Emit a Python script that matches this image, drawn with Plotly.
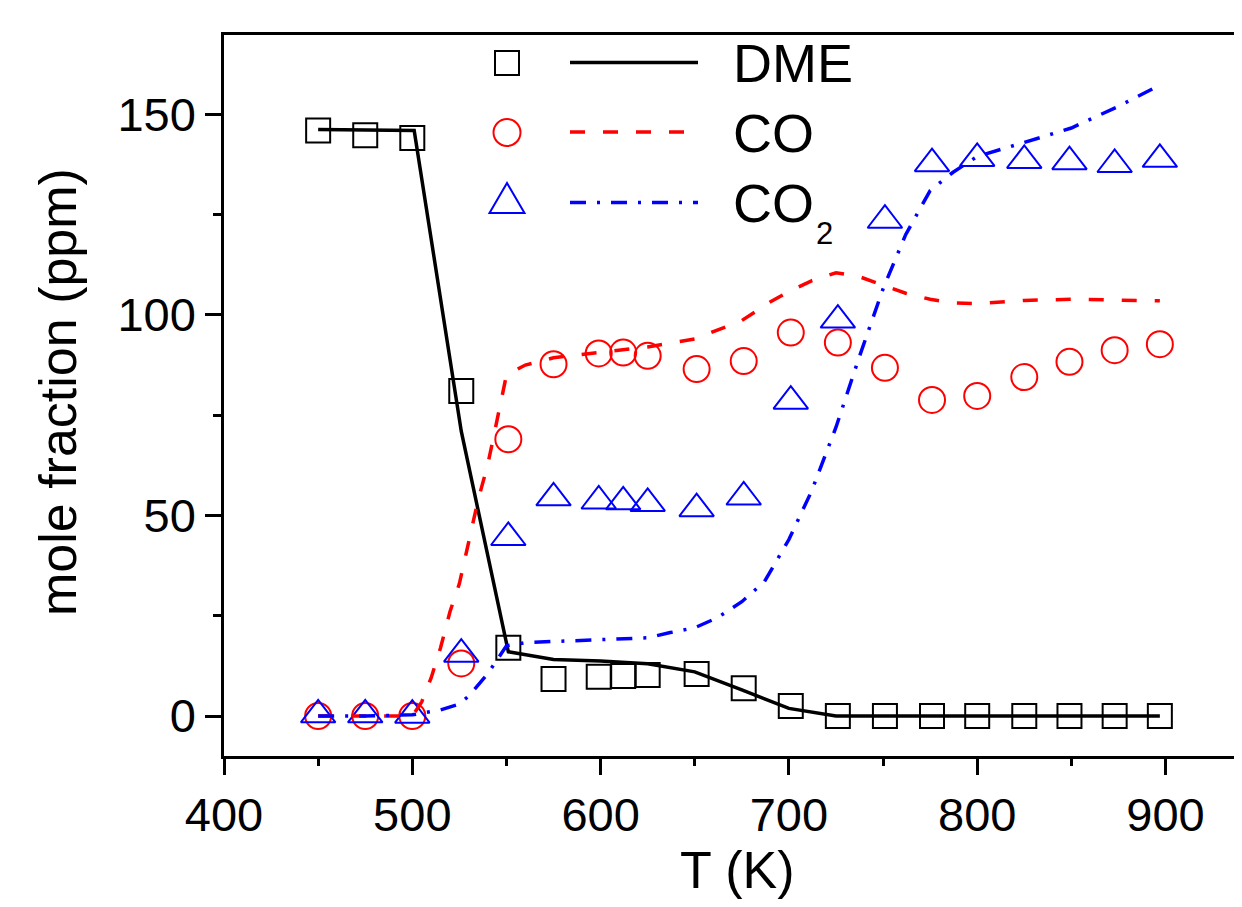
import plotly.graph_objects as go

# ---------------- data ----------------
T_exp = [450, 475, 500, 526, 551, 575, 599, 612, 625, 651, 676, 701, 726, 751, 776, 800, 825, 849, 873, 897]
DME_exp = [146.0, 144.8, 144.1, 81.0, 17.0, 9.2, 9.8, 10.0, 10.2, 10.5, 6.9, 2.5, 0, 0, 0, 0, 0, 0, 0, 0]
CO_exp = [0, 0, 0, 13.1, 69.0, 87.7, 90.4, 90.6, 89.8, 86.5, 88.5, 95.6, 93.1, 86.8, 78.8, 79.8, 84.5, 88.3, 91.2, 92.7]
CO2_exp = [0.3, 0.3, 0.2, 15.4, 44.5, 54.4, 53.6, 53.4, 53.0, 51.7, 54.6, 78.5, 98.7, 123.6, 137.7, 139.0, 138.5, 138.2, 137.5, 138.8]

T_dme_model = [450, 475, 501, 526, 551, 575, 600, 625, 650, 675, 700, 725, 750, 775, 800, 825, 850, 875, 897]
DME_model = [146.2, 146.1, 146.0, 71.0, 16.0, 14.1, 13.7, 13.0, 11.0, 6.5, 1.9, 0.0, 0, 0, 0, 0, 0, 0, 0]

T_co_model = [450, 475, 500, 505, 510, 515, 520, 525, 530, 535, 540, 545, 550, 560, 575, 600, 625, 650, 675,
              690, 700, 712, 725, 737, 750, 762, 775, 787, 800, 825, 850, 875, 897]
CO_model = [0, 0, 0, 3.5, 9.5, 17.0, 26.0, 33.0, 44.0, 54.0, 62.5, 74.0, 85.0, 87.5, 89.3, 90.7, 92.0, 94.0, 98.6,
            103.2, 105.8, 108.5, 110.5, 109.6, 107.4, 105.4, 103.9, 103.0, 102.8, 103.6, 103.9, 103.7, 103.5]

T_co2_model = [450, 475, 500, 515, 525, 530, 540, 550, 560, 575, 600, 625, 637, 650, 662, 675, 687, 700, 712,
               725, 737, 750, 762, 775, 787, 800, 825, 850, 875, 897]
CO2_model = [0, 0, 0.3, 1.5, 3.0, 5.0, 10.5, 17.5, 18.3, 18.6, 18.9, 19.5, 20.8, 22.0, 24.5, 28.5, 33.5, 44.0, 56.0,
             72.0, 89.0, 106.5, 120.0, 131.0, 135.5, 139.5, 143.0, 146.6, 152.0, 157.3]

x_ticks = [400, 500, 600, 700, 800, 900]
y_ticks = [0, 50, 100, 150]
legend_names = ["DME", "CO", "CO"]
co2_subscript = "2"

FONT = "Liberation Sans, Arial, sans-serif"
BLACK, RED, BLUE = "#000000", "#ff0000", "#0000ff"
DASH_CO = "15px,18px"
DASH_CO2 = "16px,11px,3px,11px"

fig = go.Figure()

# experimental markers
fig.add_trace(go.Scatter(x=T_exp, y=CO_exp, mode="markers", showlegend=False,
                         marker=dict(symbol="circle-open", size=26, color=RED, line=dict(width=2, color=RED))))
fig.add_trace(go.Scatter(x=T_exp, y=CO2_exp, mode="markers", showlegend=False,
                         marker=dict(symbol="triangle-up-open", size=30, color=BLUE, line=dict(width=2, color=BLUE))))
fig.add_trace(go.Scatter(x=T_exp, y=DME_exp, mode="markers", showlegend=False,
                         marker=dict(symbol="square-open", size=24, color=BLACK, line=dict(width=2, color=BLACK))))
# model lines
fig.add_trace(go.Scatter(x=T_dme_model, y=DME_model, mode="lines", showlegend=False,
                         line=dict(color=BLACK, width=3.5)))
fig.add_trace(go.Scatter(x=T_co_model, y=CO_model, mode="lines", showlegend=False,
                         line=dict(color=RED, width=3.5, dash=DASH_CO)))
fig.add_trace(go.Scatter(x=T_co2_model, y=CO2_model, mode="lines", showlegend=False,
                         line=dict(color=BLUE, width=3.5, dash=DASH_CO2)))

# ---------------- layout geometry (page body has an 8px margin) ----------------
OFF = 8
W, H = 1242 - OFF, 907 - OFF
PL, PT, PR, PB = 224, 35, 1242, 756          # plot area edges in screen pixels
L, T = PL - OFF, PT - OFF
R = W - (PR - OFF)
B = H - (PB - OFF)
pw, ph = PR - PL, PB - PT


def px(xp):
    return (xp - PL) / pw


def py(yp):
    return (PB - yp) / ph


rows = [63, 132.5, 203]
mx = px(507)
shapes = []
shapes.append(dict(type="rect", xref="paper", yref="paper", xsizemode="pixel", ysizemode="pixel",
                   xanchor=mx, yanchor=py(rows[0]), x0=-12, x1=12, y0=-12, y1=12,
                   line=dict(color=BLACK, width=2)))
shapes.append(dict(type="circle", xref="paper", yref="paper", xsizemode="pixel", ysizemode="pixel",
                   xanchor=mx, yanchor=py(rows[1]), x0=-13.5, x1=13.5, y0=-13.5, y1=13.5,
                   line=dict(color=RED, width=2)))
shapes.append(dict(type="path", xref="paper", yref="paper", xsizemode="pixel", ysizemode="pixel",
                   xanchor=mx, yanchor=py(rows[2]), path="M-17.5,-10 L17.5,-10 L0,20 Z",
                   line=dict(color=BLUE, width=2)))
for yrow, col, dash, wd in zip(rows, [BLACK, RED, BLUE], ["solid", DASH_CO, DASH_CO2], [3.5, 3.5, 3.5]):
    shapes.append(dict(type="line", xref="paper", yref="paper", x0=px(570), x1=px(698),
                       y0=py(yrow - 0.5), y1=py(yrow - 0.5), line=dict(color=col, width=wd, dash=dash)))

annotations = []
for yrow, name in zip(rows, legend_names):
    annotations.append(dict(text=name, xref="paper", yref="paper", x=px(731), y=py(yrow),
                            xanchor="left", yanchor="middle", showarrow=False,
                            font=dict(family=FONT, size=54, color=BLACK)))
annotations.append(dict(text=co2_subscript, xref="paper", yref="paper", x=px(814), y=py(233),
                        xanchor="left", yanchor="middle", showarrow=False,
                        font=dict(family=FONT, size=31, color=BLACK)))
annotations.append(dict(text="T (K)", xref="paper", yref="paper", x=px(737), y=py(870),
                        xanchor="center", yanchor="middle", showarrow=False,
                        font=dict(family=FONT, size=52, color=BLACK)))
annotations.append(dict(text="mole fraction (ppm)", xref="paper", yref="paper", x=px(58), y=py(392),
                        xanchor="center", yanchor="middle", showarrow=False, textangle=-90,
                        font=dict(family=FONT, size=52, color=BLACK)))

axis_common = dict(showgrid=False, zeroline=False, showline=True, linecolor=BLACK, linewidth=2.5,
                   ticks="outside", ticklen=16, tickwidth=2.5, tickcolor=BLACK,
                   tickfont=dict(family=FONT, size=47, color=BLACK))

fig.update_layout(
    width=W, height=H,
    margin=dict(l=L, r=R, t=T, b=B, pad=0, autoexpand=False),
    paper_bgcolor="white", plot_bgcolor="white",
    shapes=shapes, annotations=annotations,
    xaxis=dict(range=[400, 400 + pw / 1.883], tickvals=x_ticks, mirror=True,
               minor=dict(ticks="outside", ticklen=7, tickwidth=2.5, tickcolor=BLACK, dtick=50, tick0=400,
                          showgrid=False),
               **axis_common),
    yaxis=dict(range=[-(PB - 716) / 4.011, (716 - PT) / 4.011], tickvals=y_ticks, mirror=False,
               minor=dict(ticks="outside", ticklen=8, tickwidth=2.5, tickcolor=BLACK, dtick=25, tick0=0,
                          showgrid=False),
               **axis_common),
)

fig.write_html("out.html")
